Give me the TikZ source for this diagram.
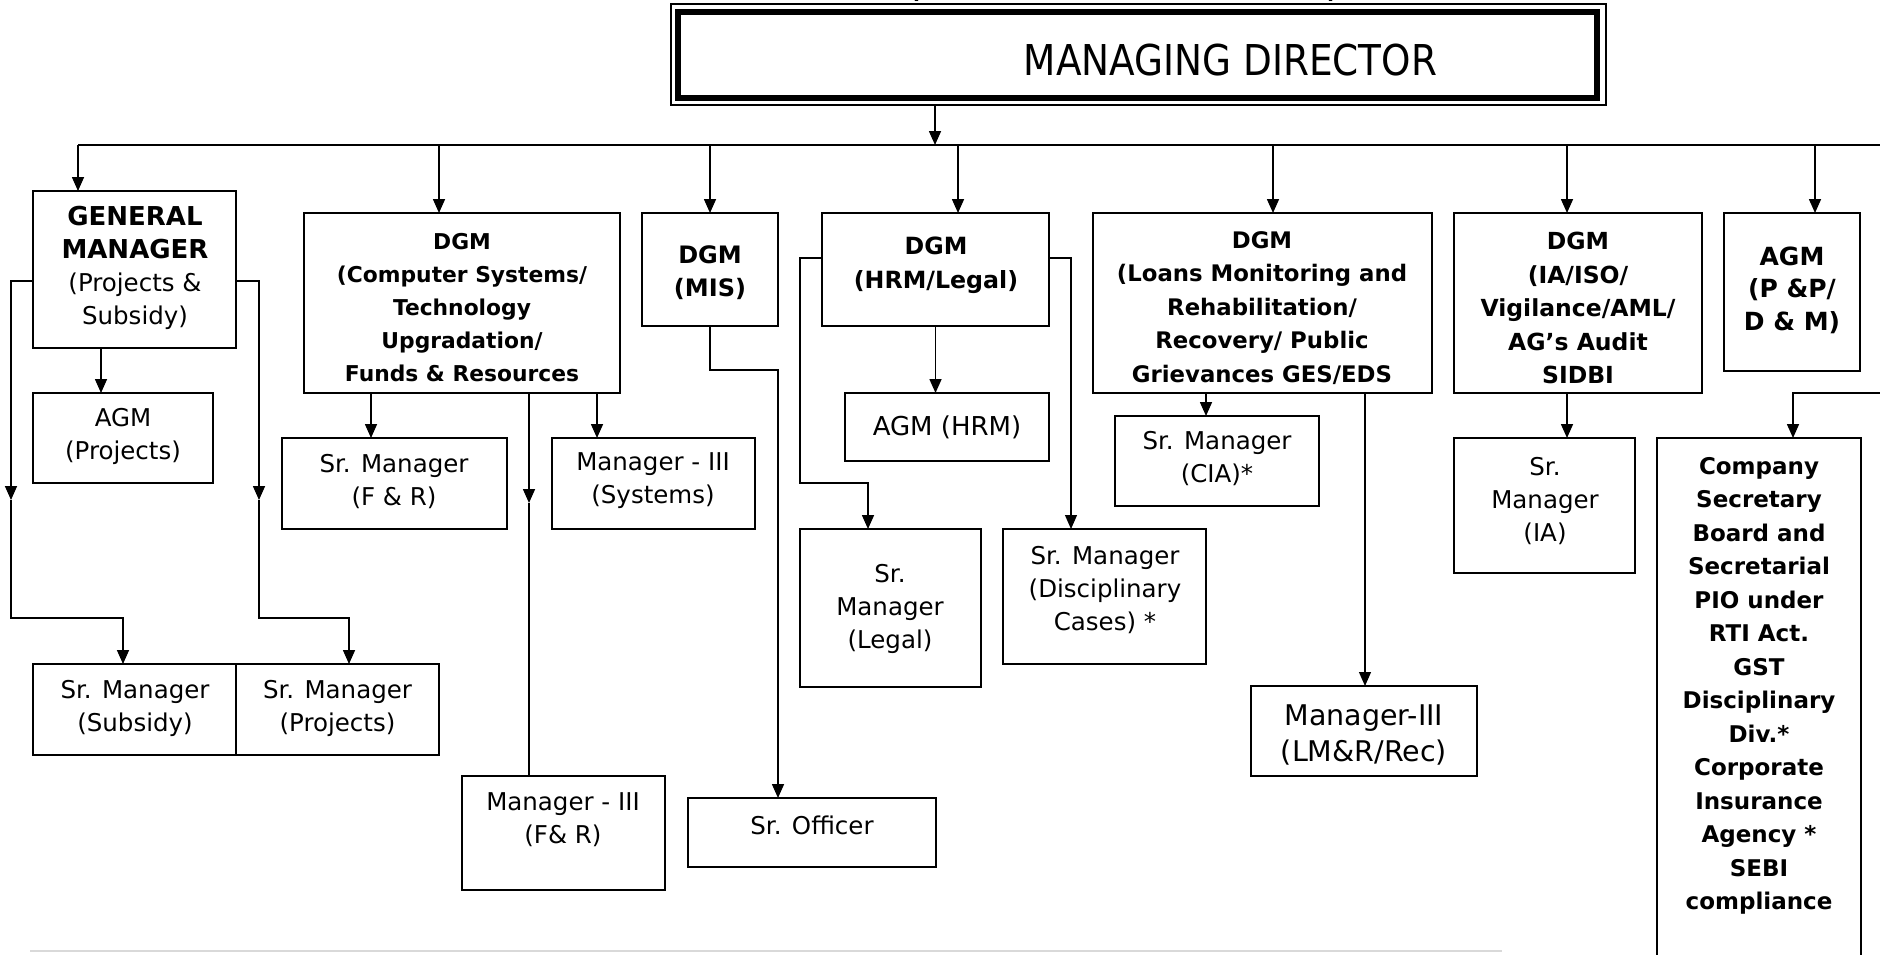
\documentclass[tikz,border=0pt]{standalone}
\usepackage{fontspec}
\setmainfont{DejaVu Sans}
\newfontfamily\mdfont{DejaVu Sans}[FakeStretch=0.88]
\usetikzlibrary{arrows.meta,calc}
\newcommand{\mybox}[6][]{\node[box,#1,minimum width={#4-#2},minimum height={#5-#3}] (#6) at ({(#2+#4)/2},{(#3+#5)/2}) {};}
\tikzset{
  box/.style={draw, line width=2pt, inner sep=0pt, outer sep=0pt},
  conn/.style={line width=1.6pt},
  arr/.style={conn, -{Triangle[length=14pt,width=12pt]}},
  reg/.style={align=center, inner sep=0pt, font=\fontsize{24.5}{33}\selectfont},
  bld/.style={align=center, inner sep=0pt, font=\bfseries\fontsize{23}{33.5}\selectfont},
}
\begin{document}
\begin{tikzpicture}[x=1pt,y=-1pt]
\useasboundingbox (0,0) rectangle (1880,954);
\clip (0,0) rectangle (1880,954);
\fill[white] (0,0) rectangle (1880,954);

% partial title text cut at top
\node[bld, anchor=base] (topl) at (915,-1.5) {(};
\node[bld, anchor=base] (topr) at (1332,-1.5) {)};

% Managing director
\node[draw, line width=1.5pt, minimum width=935, minimum height=101, inner sep=0pt] (md) at (1138.5,54.5) {};
\node[draw, line width=6pt, minimum width=919, minimum height=86.3, inner sep=0pt] (mdin) at (1137.5,54.85) {};
\node[anchor=base, inner sep=0pt, font=\mdfont\fontsize{42.5}{45}\selectfont] (mdt) at (1230.5,75) {MANAGING DIRECTOR};

% boxes
\mybox{33}{191}{236}{348}{gm}
\mybox{33}{393}{213}{483}{agmp}
\mybox{304}{213}{620}{393}{cs}
\mybox{282}{438}{507}{529}{srfr}
\mybox{552}{438}{755}{529}{sys}
\mybox{462}{776}{665}{890}{mfr}
\mybox{642}{213}{778}{326}{mis}
\mybox{688}{798}{936}{867}{sro}
\mybox{822}{213}{1049}{326}{hrm}
\mybox{845}{393}{1049}{461}{agmh}
\mybox{800}{529}{981}{687}{legal}
\mybox{1003}{529}{1206}{664}{disc}
\mybox{1093}{213}{1432}{393}{loans}
\mybox{1115}{416}{1319}{506}{cia}
\mybox{1251}{686}{1477}{776}{lmr}
\mybox{1454}{213}{1702}{393}{ia}
\mybox{1454}{438}{1635}{573}{sria}
\mybox{1724}{213}{1860}{371}{pp}
\mybox{1657}{438}{1861}{970}{comp}
\mybox{33}{664}{236}{755}{subs}
\mybox{236}{664}{439}{755}{proj}

% texts
\node[reg] (gm-t) at (135,268) {{\bfseries\fontsize{26}{33}\selectfont GENERAL}\\{\bfseries\fontsize{26}{33}\selectfont MANAGER}\\(Projects \&\\Subsidy)};
\node[reg] (agmp-t) at (123,436) {AGM\\(Projects)};
\node[bld, font=\bfseries\fontsize{21.8}{33}\selectfont] (cs-t) at (462,308) {DGM\\(Computer Systems/\\Technology\\Upgradation/\\Funds \& Resources};
\node[reg] (srfr-t) at (394,482) {Sr. Manager\\(F \& R)};
\node[reg] (sys-t) at (653,481) {Manager - III\\(Systems)};
\node[reg] (mfr-t) at (563,820) {Manager - III\\(F\& R)};
\node[bld, font=\bfseries\fontsize{24}{33}\selectfont] (mis-t) at (710,273) {DGM\\(MIS)};
\node[reg] (sro-t) at (812,825) {Sr. Officer};
\node[bld, font=\bfseries\fontsize{23.7}{34}\selectfont] (hrm-t) at (936,265) {DGM\\(HRM/Legal)};
\node[reg, font=\fontsize{26}{33}\selectfont] (agmh-t) at (947,427) {AGM (HRM)};
\node[reg] (legal-t) at (890,609) {Sr.\\Manager\\(Legal)};
\node[reg] (disc-t) at (1105,590) {Sr. Manager\\(Disciplinary\\Cases) *};
\node[bld, font=\bfseries\fontsize{22.8}{33.5}\selectfont] (loans-t) at (1262,308) {DGM\\(Loans Monitoring and\\Rehabilitation/\\Recovery/ Public\\Grievances GES/EDS};
\node[reg] (cia-t) at (1217,459) {Sr. Manager\\(CIA)*};
\node[reg, font=\fontsize{28.5}{36}\selectfont] (lmr-t) at (1364,735) {Manager-III\\(LM\&R/Rec)};
\node[bld, font=\bfseries\fontsize{23.5}{33.5}\selectfont] (ia-t) at (1578,308) {DGM\\(IA/ISO/\\Vigilance/AML/\\AG’s Audit\\SIDBI};
\node[reg] (sria-t) at (1545,501) {Sr.\\Manager\\(IA)};
\node[bld, font=\bfseries\fontsize{25}{32.5}\selectfont] (pp-t) at (1792,290) {AGM\\(P \&P/\\D \& M)};
\node[bld] (comp-t) at (1759,686) {Company\\Secretary\\Board and\\Secretarial\\PIO under\\RTI Act.\\GST\\Disciplinary\\Div.*\\Corporate\\Insurance\\Agency *\\SEBI\\compliance};
\node[reg] (subs-t) at (135,708) {Sr. Manager\\(Subsidy)};
\node[reg] (proj-t) at (337.5,708) {Sr. Manager\\(Projects)};

% bus
\coordinate (b1) at (78,145);
\coordinate (b2) at (439,145);
\coordinate (b3) at (710,145);
\coordinate (b4) at (958,145);
\coordinate (b5) at (1273,145);
\coordinate (b6) at (1567,145);
\coordinate (b7) at (1815,145);
\coordinate (bR) at (1880,145);
\coordinate (stem) at (935,145);
\draw[conn] (b1) -- (bR);
\draw[arr] (stem |- md.south) -- (stem);
\draw[arr] (b1) -- (b1 |- gm.north);
\draw[arr] (b2) -- (b2 |- cs.north);
\draw[arr] (b3) -- (b3 |- mis.north);
\draw[arr] (b4) -- (b4 |- hrm.north);
\draw[arr] (b5) -- (b5 |- loans.north);
\draw[arr] (b6) -- (b6 |- ia.north);
\draw[arr] (b7) -- (b7 |- pp.north);

% GM
\coordinate (g0) at (101,0);
\draw[arr] (g0 |- gm.south) -- (g0 |- agmp.north);
\coordinate (gl) at (11,281);
\coordinate (gla) at (11,500);
\coordinate (glc) at (123,618);
\draw[arr] (gl -| gm.west) -- (gl) -- (gla);
\draw[arr] (gla) |- (glc) -- (glc |- subs.north);
\coordinate (gr) at (259,281);
\coordinate (gra) at (259,500);
\coordinate (grc) at (349,618);
\draw[arr] (gr -| gm.east) -- (gr) -- (gra);
\draw[arr] (gra) |- (grc) -- (grc |- proj.north);

% DGM CS
\coordinate (d1) at (371,0);
\coordinate (d2) at (597,0);
\coordinate (d3) at (529,503);
\draw[arr] (d1 |- cs.south) -- (d1 |- srfr.north);
\draw[arr] (d2 |- cs.south) -- (d2 |- sys.north);
\draw[arr] (d3 |- cs.south) -- (d3);
\draw[conn] (d3) -- (d3 |- mfr.north);

% MIS
\coordinate (m1) at (710,370);
\coordinate (m2) at (778,370);
\draw[arr] (m1 |- mis.south) -- (m1) -- (m2) -- (m2 |- sro.north);

% HRM
\draw[arr] (hrm.south) -- (hrm.south |- agmh.north);
\coordinate (hl1) at (800,258);
\coordinate (hl2) at (800,483);
\coordinate (hl3) at (868,483);
\draw[arr] (hl1 -| hrm.west) -- (hl1) -- (hl2) -- (hl3) -- (hl3 |- legal.north);
\coordinate (hr1) at (1071,258);
\draw[arr, line width=1.2pt] (hr1 -| hrm.east) -- (hr1) -- (hr1 |- disc.north);

% Loans
\coordinate (l1) at (1206,0);
\coordinate (l2) at (1365,0);
\draw[arr] (l1 |- loans.south) -- (l1 |- cia.north);
\draw[arr, line width=1.2pt] (l2 |- loans.south) -- (l2 |- lmr.north);

% IA
\draw[arr] (b6 |- ia.south) -- (b6 |- sria.north);

% Company secretary
\coordinate (c1) at (1880,393);
\coordinate (c2) at (1793,393);
\draw[arr] (c1) -- (c2) -- (c2 |- comp.north);

% bottom rule
\draw[black!15, line width=2pt] (30,951) -- (1502,951);
\end{tikzpicture}
\end{document}
